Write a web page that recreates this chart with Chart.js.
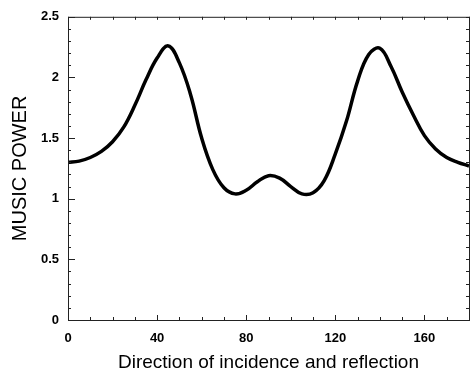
<!DOCTYPE html>
<html>
<head>
<meta charset="utf-8">
<script src="https://cdn.jsdelivr.net/npm/chart.js@4/dist/chart.umd.min.js"></script>
<style>
  body { margin: 0; background: #fff; }
  canvas { display: block; }
</style>
</head>
<body>
<canvas id="myChart" width="473" height="378"></canvas>
<script>
// values, every 5 degrees
const angles = [0, 5, 10, 15, 20, 25, 30, 35, 40, 45, 50, 55, 60, 65, 70, 75, 80, 85, 90, 95, 100, 105, 110, 115, 120, 125, 130, 135, 140, 145, 150, 155, 160, 165, 170, 175, 180];
const power = [1.30, 1.31, 1.34, 1.39, 1.47, 1.59, 1.77, 1.98, 2.16, 2.26, 2.12, 1.86, 1.50, 1.24, 1.09, 1.04, 1.07, 1.14, 1.19, 1.17, 1.10, 1.04, 1.05, 1.15, 1.37, 1.64, 1.97, 2.19, 2.24, 2.09, 1.88, 1.69, 1.52, 1.41, 1.34, 1.30, 1.27];
const xTicks = [0, 40, 80, 120, 160];
const yTicks = [0, 0.5, 1, 1.5, 2, 2.5];

// draws the box and the little inward ticks of the original figure
const frameTicks = {
  id: 'frameTicks',
  afterDraw(chart) {
    const ctx = chart.ctx;
    const a = chart.chartArea;
    const x = chart.scales.x;
    const y = chart.scales.y;
    ctx.save();
    ctx.strokeStyle = '#222';
    ctx.lineWidth = 1;
    ctx.strokeRect(a.left + 0.5, a.top + 0.5, a.right - a.left, a.bottom - a.top);
    ctx.beginPath();
    for (let v = 0; v <= 2.5001; v += 0.1) {
      const py = Math.round(y.getPixelForValue(v)) + 0.5;
      const major = Math.abs(v * 2 - Math.round(v * 2)) < 0.01;
      const len = major ? 7 : 3;
      ctx.moveTo(a.left, py); ctx.lineTo(a.left + len, py);
      ctx.moveTo(a.right, py); ctx.lineTo(a.right - 3, py);
    }
    for (let v = 0; v <= 180; v += 10) {
      const px = Math.round(x.getPixelForValue(v)) + 0.5;
      const len = v % 40 === 0 ? 5 : 3;
      ctx.moveTo(px, a.bottom); ctx.lineTo(px, a.bottom - len);
      ctx.moveTo(px, a.top); ctx.lineTo(px, a.top + 3);
    }
    ctx.stroke();
    ctx.restore();
  }
};

let myChart;
document.addEventListener('DOMContentLoaded', () => {
  const ctx = document.getElementById('myChart').getContext('2d');
  myChart = new Chart(ctx, {
    type: 'line',
    data: {
      datasets: [{
        data: angles.map((a, i) => ({ x: a, y: power[i] })),
        borderColor: '#000',
        borderWidth: 3.5,
        pointRadius: 0,
        tension: 0.4,
        fill: false
      }]
    },
    options: {
      responsive: false,
      animation: false,
      layout: { padding: { top: 13, right: 4, left: 8, bottom: 0 } },
      plugins: { legend: { display: false }, tooltip: { enabled: false } },
      scales: {
        x: {
          type: 'linear',
          min: 0,
          max: 180,
          afterFit: (s) => { s.height = 58; },
          afterBuildTicks: (s) => { s.ticks = xTicks.map(v => ({ value: v })); },
          grid: { display: false, drawTicks: false },
          border: { display: false },
          ticks: { color: '#000', padding: 11, maxRotation: 0, font: { family: 'Liberation Sans', size: 13, weight: 'bold' } },
          title: { display: true, text: 'Direction of incidence and reflection', color: '#000', padding: { top: 0, bottom: 4 }, font: { family: 'Liberation Sans', size: 19 } }
        },
        y: {
          min: 0,
          max: 2.5,
          afterFit: (s) => { s.width = 60; },
          afterBuildTicks: (s) => { s.ticks = yTicks.map(v => ({ value: v })); },
          grid: { display: false, drawTicks: false },
          border: { display: false },
          ticks: { color: '#000', padding: 9, callback: (v) => String(v), font: { family: 'Liberation Sans', size: 13, weight: 'bold' } },
          title: { display: true, text: 'MUSIC POWER', color: '#000', padding: { top: 0, bottom: 0 }, font: { family: 'Liberation Sans', size: 20 } }
        }
      }
    },
    plugins: [frameTicks]
  });
});
</script>
</body>
</html>
